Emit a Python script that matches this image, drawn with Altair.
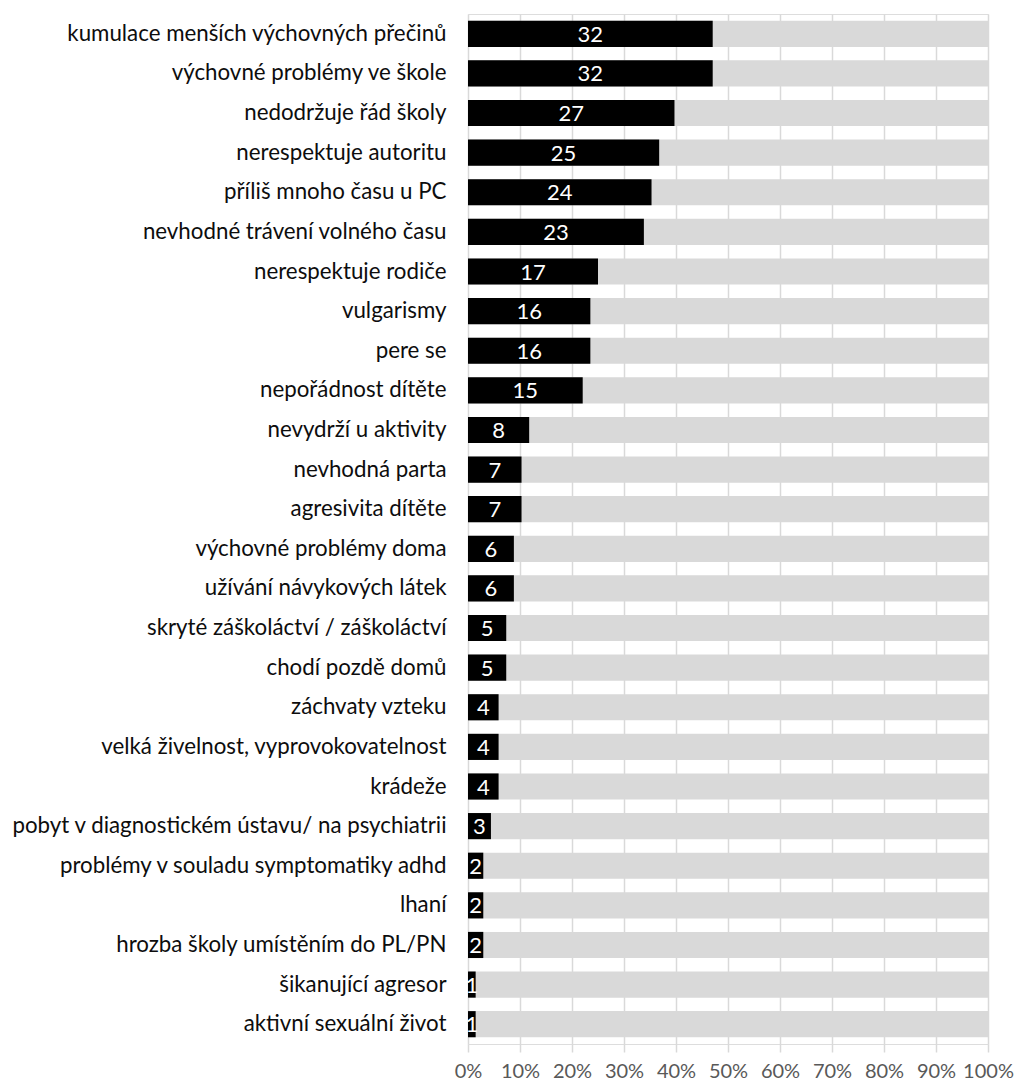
import altair as alt
import pandas as pd

categories = [
    "kumulace menších výchovných přečinů",
    "výchovné problémy ve škole",
    "nedodržuje řád školy",
    "nerespektuje autoritu",
    "příliš mnoho času u PC",
    "nevhodné trávení volného času",
    "nerespektuje rodiče",
    "vulgarismy",
    "pere se",
    "nepořádnost dítěte",
    "nevydrží u aktivity",
    "nevhodná parta",
    "agresivita dítěte",
    "výchovné problémy doma",
    "užívání návykových látek",
    "skryté záškoláctví / záškoláctví",
    "chodí pozdě domů",
    "záchvaty vzteku",
    "velká živelnost, vyprovokovatelnost",
    "krádeže",
    "pobyt v diagnostickém ústavu/ na psychiatrii",
    "problémy v souladu symptomatiky adhd",
    "lhaní",
    "hrozba školy umístěním do PL/PN",
    "šikanující agresor",
    "aktivní sexuální život",
]
counts = [32, 32, 27, 25, 24, 23, 17, 16, 16, 15, 8, 7, 7, 6, 6, 5, 5, 4, 4, 4, 3, 2, 2, 2, 1, 1]
total = 68
tick_values = [0, 0.1, 0.2, 0.3, 0.4, 0.5, 0.6, 0.7, 0.8, 0.9, 1.0]

df = pd.DataFrame({"cat": categories, "count": counts})
df["share"] = df["count"] / total
df["mid"] = df["share"] / 2
df["full"] = 1.0
df["zero"] = 0.0

FONT = "Lato"

y_enc = alt.Y(
    "cat:N",
    sort=categories,
    scale=alt.Scale(paddingInner=0.34, paddingOuter=0.17),
    axis=alt.Axis(
        title=None, domain=False, ticks=False, labelPadding=22,
        labelFontSize=22.3, labelFont=FONT, labelColor="#0d0d0d", labelLimit=600,
    ),
)
x_scale = alt.Scale(domain=[0, 1], nice=False)
x_axis = alt.Axis(
    title=None, values=tick_values, format=".0%", domain=False,
    ticks=True, tickSize=8, tickColor="#d9d9d9", tickWidth=1.5,
    grid=True, gridColor="#d9d9d9", gridWidth=1.5,
    labelFontSize=20, labelFont=FONT, labelColor="#595959", labelPadding=9,
    labelOverlap=False, labelFlush=False,
)

base = alt.Chart(df)

bg = base.mark_bar(color="#d9d9d9").encode(
    x=alt.X("zero:Q", scale=x_scale, axis=x_axis),
    x2="full:Q",
    y=y_enc,
)
fg = base.mark_bar(color="#000000").encode(
    x=alt.X("zero:Q", scale=x_scale, axis=x_axis),
    x2="share:Q",
    y=y_enc,
)
txt = base.mark_text(color="white", fontSize=22, font=FONT, align="center", baseline="middle", dy=1).encode(
    x=alt.X("mid:Q", scale=x_scale, axis=x_axis),
    y=y_enc,
    text="count:Q",
)

chart = (
    alt.layer(bg, fg, txt)
    .properties(
        width=520, height=1030,
        autosize=alt.AutoSizeParams(type="none"),
        padding={"left": 468, "top": 14, "right": 28, "bottom": 40},
    )
    .configure_view(stroke=None)
    .configure(background="white")
)

chart.save("out.html", embed_options={"renderer": "svg", "actions": False})
